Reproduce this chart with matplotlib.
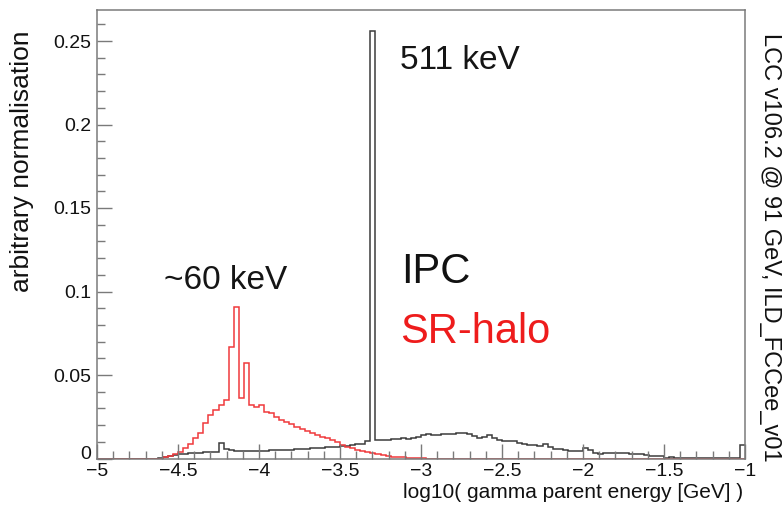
import numpy as np
import matplotlib
matplotlib.use("Agg")
import matplotlib.pyplot as plt
import matplotlib.transforms as mtransforms
from matplotlib.ticker import MultipleLocator

plt.rcParams['font.family'] = ['Liberation Sans', 'DejaVu Sans']

# Histogram binning: 128 bins in log10(E/GeV) from -5 to -1
x_min, x_max, n_bins = -5.0, -1.0, 128

# IPC photon parent-energy spectrum (bins 12..127, bins below are empty)
ipc_first_bin = 12
ipc_values = [
    0.0003, 0.0008, 0.0012, 0.0018, 0.0024, 0.0028, 0.0030, 0.0033,
    0.0035, 0.0036, 0.0037, 0.0038, 0.0092, 0.0055, 0.0052, 0.0045,
    0.0044, 0.0043, 0.0045, 0.0044, 0.0046, 0.0047, 0.0048, 0.0049,
    0.0050, 0.0051, 0.0053, 0.0055, 0.0056, 0.0058, 0.0060, 0.0062,
    0.0065, 0.0067, 0.0069, 0.0071, 0.0074, 0.0077, 0.0080, 0.0084,
    0.0089, 0.0105, 0.2560, 0.0112, 0.0112, 0.0110, 0.0115, 0.0118,
    0.0122, 0.0118, 0.0125, 0.0130, 0.0138, 0.0145, 0.0138, 0.0142,
    0.0148, 0.0145, 0.0148, 0.0152, 0.0155, 0.0148, 0.0135, 0.0125,
    0.0128, 0.0143, 0.0125, 0.0110, 0.0105, 0.0102, 0.0104, 0.0090,
    0.0085, 0.0083, 0.0080, 0.0075, 0.0085, 0.0070, 0.0055, 0.0054,
    0.0052, 0.0045, 0.0044, 0.0043, 0.0060, 0.0048, 0.0035, 0.0025,
    0.0035, 0.0033, 0.0032, 0.0030, 0.0034, 0.0028, 0.0024, 0.0025,
    0.0022, 0.0013, 0.0012, 0.0012, 0.0005, 0.0006, 0.0004, 0.0005,
    0.0003, 0.0003, 0.0002, 0.0004, 0.0003, 0.0002, 0.0003, 0.0002,
    0.0003, 0.0003, 0.0003, 0.0080,
]

# SR-halo photon parent-energy spectrum (bins 13..64, others empty)
sr_first_bin = 13
sr_values = [
    0.0008, 0.0015, 0.0025, 0.0040, 0.0060, 0.0085, 0.0120, 0.0150,
    0.0210, 0.0260, 0.0290, 0.0320, 0.0350, 0.0670, 0.0910, 0.0360,
    0.0570, 0.0320, 0.0310, 0.0320, 0.0280, 0.0270, 0.0250, 0.0230,
    0.0220, 0.0205, 0.0190, 0.0175, 0.0165, 0.0155, 0.0140, 0.0130,
    0.0122, 0.0110, 0.0098, 0.0080, 0.0070, 0.0060, 0.0050, 0.0043,
    0.0036, 0.0030, 0.0024, 0.0020, 0.0015, 0.0011, 0.0008, 0.0006,
    0.0004, 0.0002, 0.0001, 0.0001,
]

x_ticks = [-5, -4.5, -4, -3.5, -3, -2.5, -2, -1.5, -1]
x_tick_labels = ["\u22125", "\u22124.5", "\u22124", "\u22123.5", "\u22123",
                 "\u22122.5", "\u22122", "\u22121.5", "\u22121"]
y_ticks = [0, 0.05, 0.1, 0.15, 0.2, 0.25]
y_tick_labels = ["0", "0.05", "0.1", "0.15", "0.2", "0.25"]


def full_hist(first_bin, values):
    h = np.zeros(n_bins)
    h[first_bin:first_bin + len(values)] = values
    return h


edges = np.linspace(x_min, x_max, n_bins + 1)
ipc = full_hist(ipc_first_bin, ipc_values)
sr = full_hist(sr_first_bin, sr_values)

W, H = 784, 505
fig = plt.figure(figsize=(W / 100, H / 100), dpi=100)
ax = fig.add_axes([97 / W, 1 - 458.5 / H, (745 - 97) / W, (458.5 - 10) / H])

frame_col = "#7a7a7a"
ax.stairs(ipc, edges, color="#3c3c3c", linewidth=1.1, baseline=None)
ax.stairs(sr, edges, color="#f0393c", linewidth=1.1, baseline=None)

ax.set_xlim(x_min, x_max)
ax.set_ylim(0, 448.5 / 1670)

ax.set_xticks(x_ticks)
ax.set_xticklabels(x_tick_labels)
ax.set_yticks(y_ticks)
ax.set_yticklabels(y_tick_labels)
ax.xaxis.set_minor_locator(MultipleLocator(0.1))
ax.yaxis.set_minor_locator(MultipleLocator(0.01))

ax.tick_params(which="both", direction="in", top=False, right=False,
               color=frame_col, width=1.0, labelsize=14, labelcolor="#111111")
ax.tick_params(which="major", length=10.5)
ax.tick_params(which="minor", length=5.5)
ax.tick_params(axis="x", pad=3)
ax.tick_params(axis="y", pad=4)

# lift the y-axis "0" a little so it clears the first x label
zero_lbl = ax.get_yticklabels()[0]
zero_lbl.set_transform(zero_lbl.get_transform() + mtransforms.ScaledTranslation(
    0, 4 / 72, fig.dpi_scale_trans))

for s in ax.spines.values():
    s.set_color(frame_col)
    s.set_linewidth(1.1)

# annotations
ax.text(-3.13, 0.2335, "511 keV", fontsize=24, color="#151515", va="baseline")
ax.text(-4.585, 0.1015, "~60 keV", fontsize=24, color="#151515", va="baseline")
ax.text(-3.12, 0.105, "IPC", fontsize=30, color="#111111", va="baseline")
ax.text(-3.13, 0.069, "SR-halo", fontsize=30, color="#ee1c1c", va="baseline")

fig.text(22 / W, 1 - 30 / H, "arbitrary normalisation", rotation=90,
         ha="center", va="top", fontsize=19, color="#111111")
fig.text(743 / W, 1 - 492 / H, "log10( gamma parent energy [GeV] )",
         ha="right", va="center", fontsize=15, color="#111111")
fig.text(770 / W, 1 - 247 / H, "LCC v106.2 @ 91 GeV, ILD_FCCee_v01",
         rotation=-90, ha="center", va="center", fontsize=17,
         color="#111111")

fig.savefig("out.png", dpi=100, facecolor="white")
